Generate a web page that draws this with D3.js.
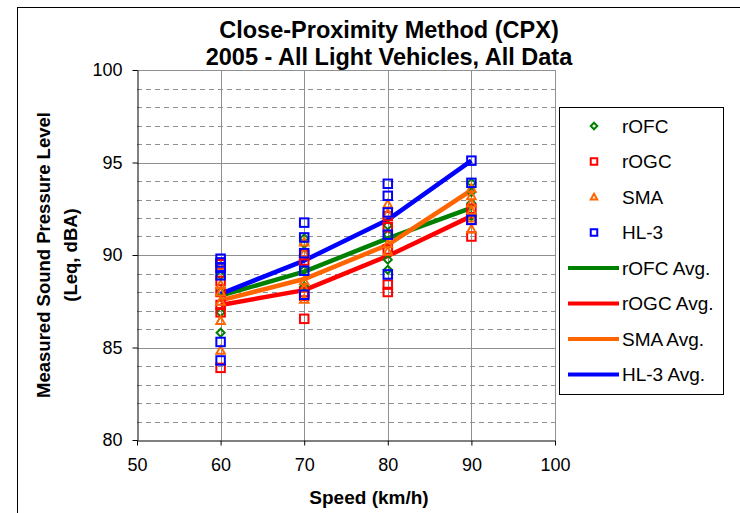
<!DOCTYPE html>
<html>
<head>
<meta charset="utf-8">
<script src="https://cdn.jsdelivr.net/npm/d3@7"></script>
<style>
  html, body { margin: 0; padding: 0; background: #fff; }
  svg { display: block; font-family: "Liberation Sans", Arial, sans-serif; }
</style>
</head>
<body>
<svg id="chart" width="740" height="513"></svg>
<script>
// Test speeds (km/h)
const speeds = [60, 70, 80, 90];

// Individual measurements per speed (dBA), index matches speeds
const rOFC = [
  [88.9, 88.0, 86.9, 85.8],
  [90.9, 90.6, 89.2, 88.3],
  [91.6, 91.1, 89.75, 89.2],
  [93.9, 93.4, 92.8, 92.1]
];
const rOGC = [
  [89.5, 88.6, 88.0, 87.3, 86.9, 83.9],
  [90.0, 89.7, 88.0, 87.8, 86.55],
  [92.1, 91.5, 90.3, 88.4, 88.0],
  [92.5, 91.9, 91.0]
];
const SMA = [
  [89.4, 88.4, 88.0, 87.5, 86.45, 84.85],
  [90.7, 90.1, 88.6, 88.2, 87.6],
  [92.75, 92.25, 90.6, 90.2],
  [93.6, 93.2, 92.8, 92.4, 92.0, 91.4]
];
const HL3 = [
  [89.8, 89.6, 89.3, 88.9, 85.3, 84.3],
  [91.75, 90.95, 90.1, 89.15, 87.85],
  [93.85, 93.2, 92.3, 91.1, 88.95],
  [95.1, 93.9, 91.9]
];

// Average level per surface and speed
const rOFCAvg = [87.8, 89.1, 90.9, 92.55];
const rOGCAvg = [87.3, 88.1, 89.95, 92.1];
const SMAAvg  = [87.55, 88.7, 90.55, 93.5];
const HL3Avg  = [87.9, 89.7, 91.9, 95.1];

const xTicks = [50, 60, 70, 80, 90, 100];
const yTicks = [80, 85, 90, 95, 100];

const pointSeries = [
  { name: "rOFC", data: rOFC, color: "#008000", symbol: "diamond" },
  { name: "rOGC", data: rOGC, color: "#ff0000", symbol: "square" },
  { name: "SMA",  data: SMA,  color: "#ff6600", symbol: "triangle" },
  { name: "HL-3", data: HL3,  color: "#0000ff", symbol: "square" }
];
const lineSeries = [
  { name: "rOFC Avg.", data: rOFCAvg, color: "#008000" },
  { name: "rOGC Avg.", data: rOGCAvg, color: "#ff0000" },
  { name: "SMA Avg.",  data: SMAAvg,  color: "#ff6600" },
  { name: "HL-3 Avg.", data: HL3Avg,  color: "#0000ff" }
];

const svg = d3.select("#chart");
const plot = { left: 137, right: 555, top: 70, bottom: 440 };

const x = d3.scaleLinear().domain([50, 100]).range([plot.left, plot.right]);
const y = d3.scaleLinear().domain([80, 100]).range([plot.bottom, plot.top]);

// Outer chart frame
svg.append("rect")
  .attr("x", 17.5).attr("y", 7.5)
  .attr("width", 760).attr("height", 560)
  .attr("fill", "none").attr("stroke", "#000").attr("stroke-width", 1);

// Minor (dashed) horizontal gridlines every 1 dBA
const minor = d3.range(81, 100).filter(v => v % 5 !== 0);
svg.append("g").selectAll("line").data(minor).join("line")
  .attr("x1", plot.left).attr("x2", plot.right)
  .attr("y1", d => Math.round(y(d)) + 0.5).attr("y2", d => Math.round(y(d)) + 0.5)
  .attr("stroke", "#909090").attr("stroke-width", 1)
  .attr("stroke-dasharray", "5,4");

// Major horizontal gridlines
svg.append("g").selectAll("line").data(yTicks.filter(v => v > 80)).join("line")
  .attr("x1", plot.left).attr("x2", plot.right)
  .attr("y1", d => Math.round(y(d)) + 0.5).attr("y2", d => Math.round(y(d)) + 0.5)
  .attr("stroke", "#909090").attr("stroke-width", 1);

// Vertical gridlines
svg.append("g").selectAll("line").data(xTicks.filter(v => v > 50)).join("line")
  .attr("x1", d => Math.round(x(d)) + 0.5).attr("x2", d => Math.round(x(d)) + 0.5)
  .attr("y1", plot.top).attr("y2", plot.bottom)
  .attr("stroke", "#909090").attr("stroke-width", 1);

// Axes
const xAxis = svg.append("g")
  .attr("transform", `translate(0,${plot.bottom + 0.5})`)
  .call(d3.axisBottom(x).tickValues(xTicks).tickSize(5).tickPadding(13).tickSizeOuter(0));
const yAxis = svg.append("g")
  .attr("transform", `translate(${plot.left + 0.5},0)`)
  .call(d3.axisLeft(y).tickValues(yTicks).tickSize(5).tickPadding(10).tickSizeOuter(0));
[xAxis, yAxis].forEach(g => {
  g.select(".domain").attr("stroke", "#000").attr("stroke-width", 1);
  g.selectAll(".tick line").attr("stroke", "#000");
  g.selectAll(".tick text")
    .attr("font-family", "'Liberation Sans', Arial, sans-serif")
    .attr("font-size", 18).attr("fill", "#000");
});

// Average lines
const line = d3.line().x((d, i) => x(speeds[i])).y(d => y(d));
svg.append("g").selectAll("path").data(lineSeries).join("path")
  .attr("d", s => line(s.data))
  .attr("fill", "none").attr("stroke", s => s.color)
  .attr("stroke-width", 4.5).attr("stroke-linejoin", "round");

// Marker shapes
function marker(sel, symbol, color, size) {
  const h = size / 2;
  if (symbol === "square") {
    sel.append("rect").attr("x", -h).attr("y", -h).attr("width", size).attr("height", size)
      .attr("fill", "none").attr("stroke", color).attr("stroke-width", 2);
  } else if (symbol === "diamond") {
    sel.append("path").attr("d", `M0,${-h}L${h},0L0,${h}L${-h},0Z`)
      .attr("fill", "none").attr("stroke", color).attr("stroke-width", 2);
  } else {
    sel.append("path").attr("d", `M0,${-h}L${h},${h * 0.8}L${-h},${h * 0.8}Z`)
      .attr("fill", "none").attr("stroke", color).attr("stroke-width", 2);
  }
}

// Individual measurements
pointSeries.forEach(s => {
  const pts = [];
  s.data.forEach((vals, i) => vals.forEach(v => pts.push([speeds[i], v])));
  const g = svg.append("g");
  pts.forEach(p => {
    const m = g.append("g").attr("transform", `translate(${x(p[0])},${y(p[1])})`);
    marker(m, s.symbol, s.color, s.symbol === "diamond" ? 8 : 8.5);
  });
});

// Title
const title = svg.append("text")
  .attr("text-anchor", "middle").attr("font-weight", "bold").attr("font-size", 23.5);
title.append("tspan").attr("x", 389).attr("y", 38).text("Close-Proximity Method (CPX)");
title.append("tspan").attr("x", 389).attr("y", 65).text("2005 - All Light Vehicles, All Data");

// Axis titles
svg.append("text")
  .attr("x", 369).attr("y", 504)
  .attr("text-anchor", "middle").attr("font-weight", "bold").attr("font-size", 19)
  .text("Speed (km/h)");
const yt = svg.append("text")
  .attr("transform", `translate(0,${(plot.top + plot.bottom) / 2}) rotate(-90)`)
  .attr("text-anchor", "middle").attr("font-weight", "bold").attr("font-size", 18.5);
yt.append("tspan").attr("x", 0).attr("y", 50).text("Measured Sound Pressure Level");
yt.append("tspan").attr("x", 0).attr("y", 77).text("(Leq, dBA)");

// Legend
const legend = svg.append("g");
legend.append("rect")
  .attr("x", 559.5).attr("y", 107.5).attr("width", 164).attr("height", 287)
  .attr("fill", "#fff").attr("stroke", "#000").attr("stroke-width", 1);
const legendItems = [
  ...pointSeries.map(s => ({ type: "point", s })),
  ...lineSeries.map(s => ({ type: "line", s }))
];
legendItems.forEach((item, i) => {
  const cy = 126 + i * 35.5;
  const g = legend.append("g");
  if (item.type === "point") {
    const m = g.append("g").attr("transform", `translate(594,${cy})`);
    marker(m, item.s.symbol, item.s.color, 6.5);
  } else {
    g.append("line").attr("x1", 568).attr("x2", 619).attr("y1", cy).attr("y2", cy)
      .attr("stroke", item.s.color).attr("stroke-width", 4);
  }
  g.append("text").attr("x", 622).attr("y", cy).attr("dy", "0.36em")
    .attr("font-size", 19).attr("fill", "#000").text(item.s.name);
});
</script>
</body>
</html>
